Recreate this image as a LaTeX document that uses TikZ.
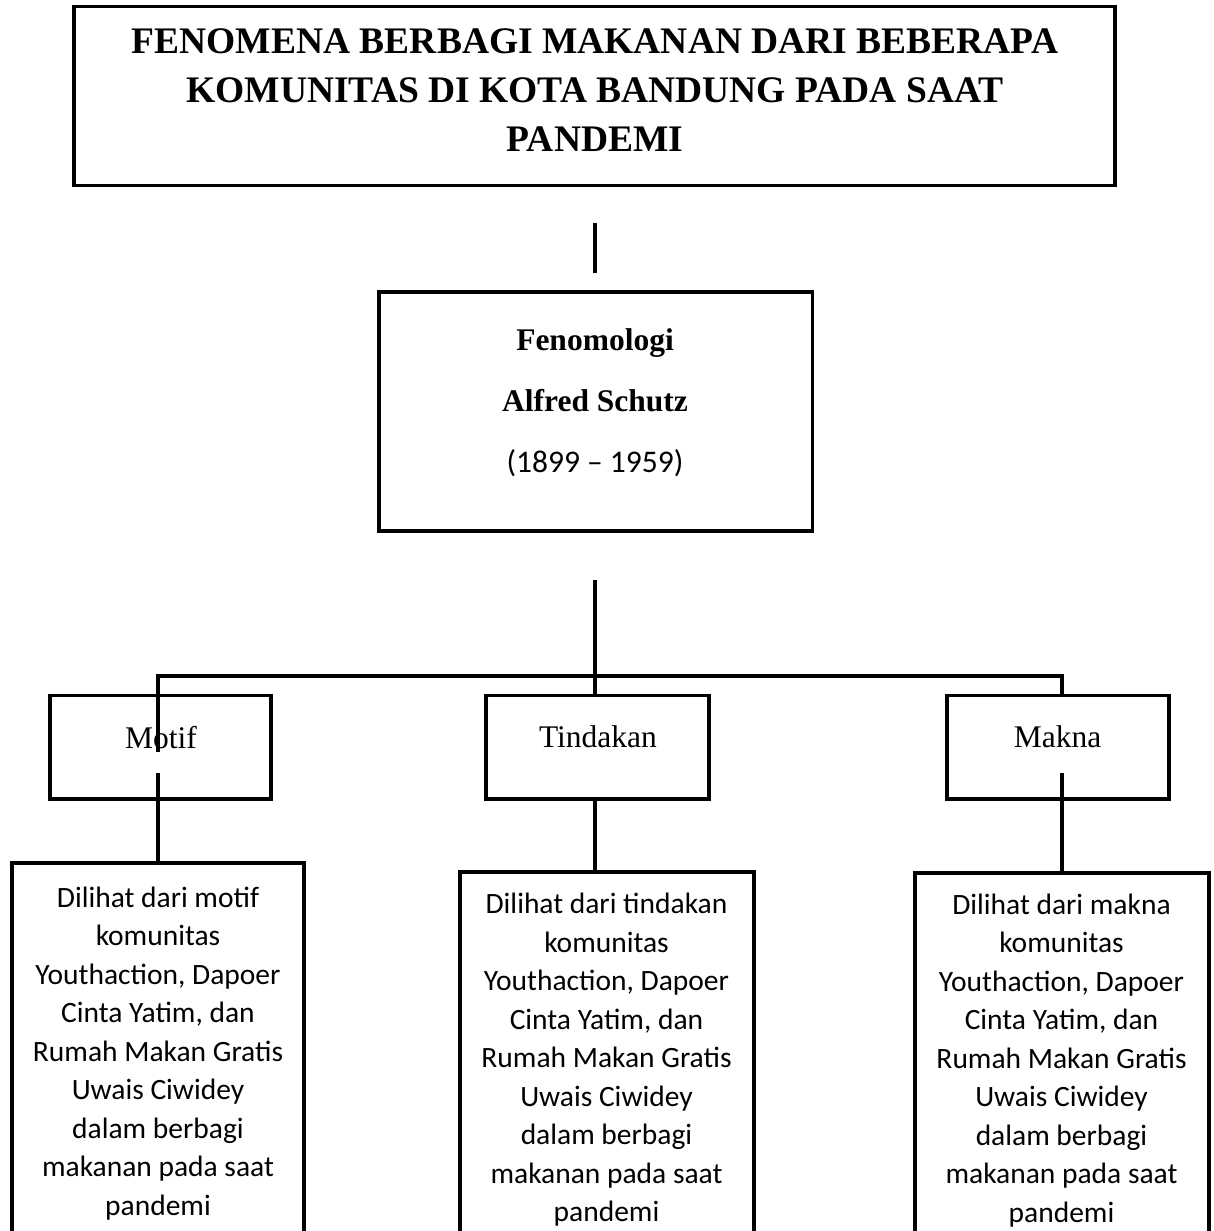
\documentclass[tikz,border=0pt]{standalone}
\usepackage{fontspec}
\setmainfont{Liberation Serif}
\newfontfamily\calibrifont{Carlito}
\begin{document}
\begin{tikzpicture}[x=1pt,y=-1pt]
\tikzset{
  box/.style={draw, line width=3.8pt, rectangle, inner sep=0pt},
  conn/.style={line width=3.8pt},
  txt/.style={inner sep=0pt, anchor=base},
  titlefont/.style={font=\fontsize{37.5}{49.5}\selectfont\bfseries},
  midfont/.style={font=\fontsize{31.5}{61}\selectfont},
  catfont/.style={font=\fontsize{31.5}{38}\selectfont},
  descfont/.style={font=\calibrifont\fontsize{29.5}{38.5}\selectfont},
}
\useasboundingbox (0,0) rectangle (1214,1231);
\clip (0,0) rectangle (1214,1231);

% title
\node[box, minimum width=1041pt, minimum height=179pt] (title) at (594.5,96) {};
\node[txt, titlefont] (titletxt) at (595,53) {\begin{tabular}[t]{@{}c@{}}FENOMENA BERBAGI MAKANAN DARI BEBERAPA\\ KOMUNITAS DI KOTA BANDUNG PADA SAAT\\ PANDEMI\end{tabular}};

% theory box
\node[box, minimum width=433.5pt, minimum height=239pt] (theory) at (595.75,411.5) {};
\node[txt, midfont] (theorytxt) at (595,350.5) {\begin{tabular}[t]{@{}c@{}}\textbf{Fenomologi}\\ \textbf{Alfred Schutz}\\ {\calibrifont (1899 – 1959)}\end{tabular}};

% category boxes
\node[box, minimum width=221pt, minimum height=103.5pt] (motif) at (160.5,747.25) {};
\node[txt, catfont] (motiftxt) at (161,748) {Motif};
\node[box, minimum width=223pt, minimum height=103.5pt] (tind) at (597.5,747.25) {};
\node[txt, catfont] (tindtxt) at (598,747) {Tindakan};
\node[box, minimum width=222pt, minimum height=103.5pt] (makna) at (1058,747.25) {};
\node[txt, catfont] (maknatxt) at (1057.5,747) {Makna};

% description boxes
\node[box, minimum width=292pt, minimum height=397pt] (lbox) at (158,1061.5) {};
\node[txt, descfont] (ltxt) at (158,907) {\begin{tabular}[t]{@{}c@{}}Dilihat dari motif\\ komunitas\\ Youthaction, Dapoer\\ Cinta Yatim, dan\\ Rumah Makan Gratis\\ Uwais Ciwidey\\ dalam berbagi\\ makanan pada saat\\ pandemi\end{tabular}};
\node[box, minimum width=294pt, minimum height=388pt] (mbox) at (607,1066) {};
\node[txt, descfont] (mtxt) at (606.5,913.5) {\begin{tabular}[t]{@{}c@{}}Dilihat dari tindakan\\ komunitas\\ Youthaction, Dapoer\\ Cinta Yatim, dan\\ Rumah Makan Gratis\\ Uwais Ciwidey\\ dalam berbagi\\ makanan pada saat\\ pandemi\end{tabular}};
\node[box, minimum width=294pt, minimum height=387pt] (rbox) at (1062,1066.5) {};
\node[txt, descfont] (rtxt) at (1061.5,914) {\begin{tabular}[t]{@{}c@{}}Dilihat dari makna\\ komunitas\\ Youthaction, Dapoer\\ Cinta Yatim, dan\\ Rumah Makan Gratis\\ Uwais Ciwidey\\ dalam berbagi\\ makanan pada saat\\ pandemi\end{tabular}};

% connectors
\coordinate (a1) at (595,223);
\coordinate (a2) at (595,273);
\coordinate (b1) at (595,580);
\coordinate (hl) at (158,676);
\coordinate (hr) at (1062,676);
\coordinate (ml) at (158,752);
\coordinate (ml2) at (158,773);
\coordinate (mr2) at (1062,773);
\draw[conn] (a1) -- (a2);
\draw[conn] (b1) -- (tind.north -| b1);
\draw[conn] (ml) -- (hl) -- (hr) -- (makna.north -| hr);
\draw[conn] (ml2) -- (lbox.north -| ml2);
\draw[conn] (tind.south -| b1) -- (mbox.north -| b1);
\draw[conn] (mr2) -- (rbox.north -| mr2);
\end{tikzpicture}
\end{document}
